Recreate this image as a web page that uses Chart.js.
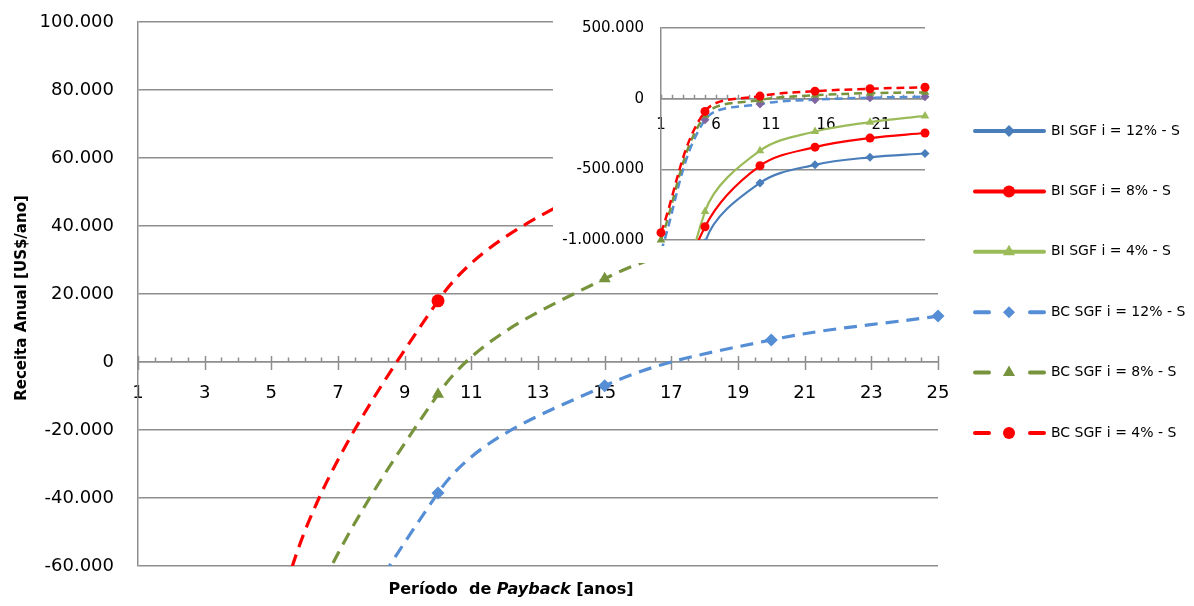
<!DOCTYPE html>
<html>
<head>
<meta charset="utf-8">
<title>Receita anual x período de payback</title>
<script src="https://cdn.jsdelivr.net/npm/chart.js@4.4.1/dist/chart.umd.min.js"></script>
<style>
  html, body { margin: 0; padding: 0; background: #fff; }
  #wrap { position: relative; width: 1194px; height: 606px; overflow: hidden; background: #fff; }
  #main { position: absolute; left: 0; top: 0; }
  #inset { position: absolute; left: 553px; top: 0; background: #fff; }
</style>
</head>
<body>
<div id="wrap">
  <canvas id="main" width="1194" height="606"></canvas>
  <canvas id="inset" width="407" height="263"></canvas>
</div>
<script>
// Payback period (years) at which each series is evaluated
const periods = [1, 5, 10, 15, 20, 25];

// Annual revenue [US$/year] per series
const biSgf12 = [-3000000, -1020000, -596000, -468000, -415000, -388000];
const biSgf8  = [-1850000, -906000, -475000, -343000, -279000, -243000];
const biSgf4  = [-2400000, -799000, -368000, -232000, -166000, -122000];
const bcSgf12 = [-1080000, -150000, -38500, -7000, 6500, 13500];
const bcSgf8  = [-1000000, -118000, -9500, 24500, 39000, 45000];
const bcSgf4  = [-948000, -90000, 18000, 53000, 70000, 81000];

const seriesLabels = [
  'BI SGF i = 12% - S',
  'BI SGF i = 8% - S',
  'BI SGF i = 4% - S',
  'BC SGF i = 12% - S',
  'BC SGF i = 8% - S',
  'BC SGF i = 4% - S'
];

// Axis tick values
const mainXTicks  = [1, 3, 5, 7, 9, 11, 13, 15, 17, 19, 21, 23, 25];
const mainYTicks  = [-60000, -40000, -20000, 0, 20000, 40000, 60000, 80000, 100000];
const insetXTicks = [1, 6, 11, 16, 21];
const insetYTicks = [-1000000, -500000, 0, 500000];

const seriesValues = [biSgf12, biSgf8, biSgf4, bcSgf12, bcSgf8, bcSgf4];

const GRID = '#8e8e8e';
const FONT = "'DejaVu Sans', sans-serif";
Chart.defaults.font.family = FONT;
Chart.defaults.color = '#000';

const styles = [
  { color: '#4A7EBB', point: 'rectRot',  dashed: false },
  { color: '#FF0000', point: 'circle',   dashed: false },
  { color: '#9BBB59', point: 'triangle', dashed: false },
  { color: '#558ED5', point: 'rectRot',  dashed: true, insetPoint: '#7F64A0' },
  { color: '#77933C', point: 'triangle', dashed: true },
  { color: '#FF0000', point: 'circle',   dashed: true }
];

function fmt(v) {
  const s = String(Math.abs(Math.round(v))).replace(/\B(?=(\d{3})+(?!\d))/g, '.');
  return (v < 0 ? '-' : '') + s;
}

function markerRadius(style, inset) {
  if (inset) return style === 'triangle' ? 5 : 4.5;
  return style === 'triangle' ? 7 : 6.5;
}

function buildDatasets(inset) {
  return seriesValues.map((vals, i) => {
    const st = styles[i];
    const pc = inset && st.insetPoint ? st.insetPoint : st.color;
    return {
      label: seriesLabels[i],
      data: periods.map((p, k) => ({ x: p, y: vals[k] })),
      borderColor: st.color,
      backgroundColor: st.color,
      borderWidth: inset ? (st.dashed ? 2.5 : 2.2) : 3.2,
      borderDash: st.dashed ? (inset ? [8, 5] : [13, 8]) : [],
      borderCapStyle: 'butt',
      pointStyle: st.point,
      pointRadius: markerRadius(st.point, inset),
      pointHoverRadius: markerRadius(st.point, inset),
      pointBackgroundColor: pc,
      pointBorderColor: pc,
      pointBorderWidth: 0,
      tension: 0.35,
      clip: inset
        ? { left: 8, top: 0, right: 8, bottom: st.dashed ? 6 : 0 }
        : { left: 8, top: 0, right: 8, bottom: 0 },
      order: st.dashed ? (5 - i) : (3 + i)
    };
  });
}

// Tick marks across the horizontal axis (drawn at y = 0)
function axisTicksPlugin(majors, minorStep, majorUp, majorDown, minorUp, allInside) {
  return {
    id: 'axisTicks',
    beforeDatasetsDraw(chart) {
      const xs = chart.scales.x, ys = chart.scales.y, ctx = chart.ctx;
      const y0 = ys.getPixelForValue(0);
      ctx.save();
      ctx.strokeStyle = GRID;
      ctx.lineWidth = 1.5;
      ctx.beginPath();
      for (let v = xs.min; v <= xs.max + 1e-9; v += minorStep) {
        const px = Math.round(xs.getPixelForValue(v)) + 0.5;
        const isMajor = !allInside && majors.includes(v);
        if (isMajor) {
          ctx.moveTo(px, y0 - majorUp);
          ctx.lineTo(px, y0 + majorDown);
        } else {
          ctx.moveTo(px, y0 - minorUp);
          ctx.lineTo(px, y0);
        }
      }
      ctx.stroke();
      ctx.restore();
    }
  };
}

// Axis titles and legend of the main chart
const decorPlugin = {
  id: 'decor',
  afterDraw(chart) {
    const ctx = chart.ctx;
    ctx.save();
    ctx.fillStyle = '#000';

    // vertical title
    ctx.save();
    ctx.translate(22, 298);
    ctx.rotate(-Math.PI / 2);
    ctx.font = 'bold 15px ' + FONT;
    ctx.textAlign = 'center';
    ctx.textBaseline = 'middle';
    ctx.fillText('Receita Anual [US$/ano]', 0, 0);
    ctx.restore();

    // horizontal title with italic word
    const parts = [
      { t: 'Período  de ', f: 'bold 16px ' + FONT },
      { t: 'Payback', f: 'italic bold 16px ' + FONT },
      { t: ' [anos]', f: 'bold 16px ' + FONT }
    ];
    let total = 0;
    parts.forEach(p => { ctx.font = p.f; p.w = ctx.measureText(p.t).width; total += p.w; });
    let x = 511 - total / 2;
    ctx.textBaseline = 'middle';
    ctx.textAlign = 'left';
    parts.forEach(p => { ctx.font = p.f; ctx.fillText(p.t, x, 590); x += p.w; });

    // legend
    const lx0 = 975, lx1 = 1044, lxm = 1009, tx = 1051;
    chart.data.datasets.forEach((ds, i) => {
      const st = styles[i];
      const y = 131 + i * 60.4;
      ctx.strokeStyle = st.color;
      ctx.fillStyle = st.color;
      ctx.lineWidth = 4;
      ctx.lineCap = 'round';
      ctx.beginPath();
      if (st.dashed) {
        ctx.moveTo(lx0, y); ctx.lineTo(lx0 + 14, y);
        ctx.moveTo(lx1 - 14, y); ctx.lineTo(lx1, y);
      } else {
        ctx.moveTo(lx0, y); ctx.lineTo(lx1, y);
      }
      ctx.stroke();
      Chart.helpers.drawPoint(ctx, {
        pointStyle: st.point,
        radius: st.point === 'triangle' ? 7 : 6,
        rotation: 0,
        borderWidth: 0
      }, lxm, y);
      ctx.fillStyle = '#000';
      ctx.font = '14px ' + FONT;
      ctx.textAlign = 'left';
      ctx.textBaseline = 'middle';
      ctx.fillText(ds.label, tx, y);
    });
    ctx.restore();
  }
};

// fixed-width value axis without extra label padding above/below
function fixYAxis(width) {
  return s => { s.width = width; s.paddingTop = 0; s.paddingBottom = 0; };
}

new Chart(document.getElementById('main'), {
  type: 'line',
  data: { datasets: buildDatasets(false) },
  options: {
    responsive: false,
    animation: false,
    events: [],
    layout: { padding: { left: 0, top: 22, right: 256, bottom: 40 } },
    plugins: { legend: { display: false }, tooltip: { enabled: false } },
    scales: {
      x: {
        type: 'linear', min: 1, max: 25,
        position: { y: 0 },
        afterBuildTicks: s => { s.ticks = mainXTicks.map(v => ({ value: v })); },
        grid: { display: true, drawOnChartArea: false, drawTicks: false },
        border: { display: true, color: GRID, width: 1.5 },
        ticks: { font: { size: 18 }, color: '#000', padding: 21, maxRotation: 0, autoSkip: false }
      },
      y: {
        type: 'linear', min: -60000, max: 100000,
        afterBuildTicks: s => { s.ticks = mainYTicks.map(v => ({ value: v })); },
        afterFit: fixYAxis(138),
        grid: { color: GRID, lineWidth: 1.5, drawTicks: false },
        border: { display: true, color: GRID, width: 1.5 },
        ticks: { font: { size: 18 }, color: '#000', padding: 24, callback: v => fmt(v) }
      }
    }
  },
  plugins: [axisTicksPlugin(mainXTicks, 0.5, 6, 8, 4.5, false), decorPlugin]
});

new Chart(document.getElementById('inset'), {
  type: 'line',
  data: { datasets: buildDatasets(true) },
  options: {
    responsive: false,
    animation: false,
    events: [],
    layout: { padding: { left: 0, top: 28, right: 35, bottom: 23 } },
    plugins: { legend: { display: false }, tooltip: { enabled: false } },
    scales: {
      x: {
        type: 'linear', min: 1, max: 25,
        position: { y: 0 },
        afterBuildTicks: s => { s.ticks = insetXTicks.map(v => ({ value: v })); },
        grid: { display: true, drawOnChartArea: false, drawTicks: false },
        border: { display: true, color: GRID, width: 1.5 },
        ticks: { font: { size: 15 }, color: '#000', padding: 17, maxRotation: 0, autoSkip: false }
      },
      y: {
        type: 'linear', min: -1000000, max: 500000,
        afterBuildTicks: s => { s.ticks = insetYTicks.map(v => ({ value: v })); },
        afterFit: fixYAxis(108),
        grid: { color: GRID, lineWidth: 1.5, drawTicks: false },
        border: { display: true, color: GRID, width: 1.5 },
        ticks: { font: { size: 15 }, color: '#000', padding: 17, callback: v => fmt(v) }
      }
    }
  },
  plugins: [axisTicksPlugin(insetXTicks, 1, 4, 4, 4, true)]
});
</script>
</body>
</html>
